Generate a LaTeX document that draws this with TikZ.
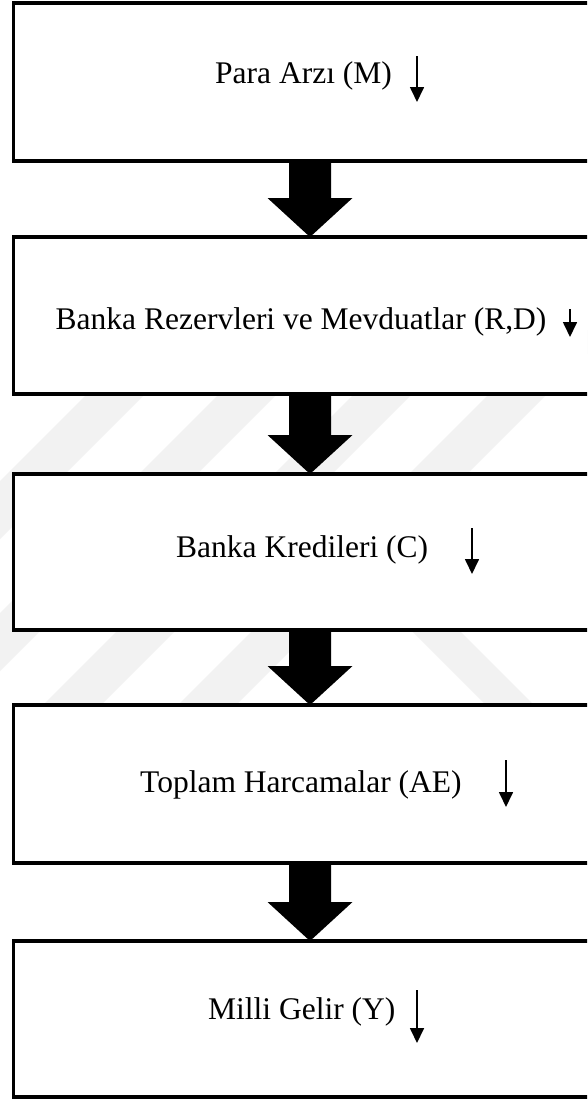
\documentclass[tikz,border=0pt]{standalone}
\usepackage{fontspec}
\setmainfont{Liberation Serif}
\usetikzlibrary{calc,arrows.meta}
\begin{document}
\begin{tikzpicture}[x=1pt,y=-1pt,
  box/.style={draw, line width=3.8pt, fill=white, rectangle, anchor=north west,
              inner sep=0pt, outer sep=0pt, minimum width=620pt},
  txt/.style={anchor=base west, inner sep=0pt, font=\fontsize{31.5}{36}\selectfont},
  fallarrow/.style={line width=1.7pt, -{Triangle[width=14pt,length=15pt]}},
  band/.style={fill=black!5}
]
\clip (0,0) rectangle (587,1100);
\fill[white] (0,0) rectangle (587,1100);

% faint diagonal background bands
\foreach \L in {11,143,278,413}{
  \fill[band] (\L+140,330) -- (\L+198,330) -- (\L-202,730) -- (\L-260,730) -- cycle;
}
\fill[band] (381,600) -- (429,600) -- (569,740) -- (521,740) -- cycle;

% stages
\node[box, minimum height=158pt] (b1) at (13.5,3) {};
\node[box, minimum height=157pt] (b2) at (13.5,237) {};
\node[box, minimum height=156pt] (b3) at (13.5,474) {};
\node[box, minimum height=158pt] (b4) at (13.5,705) {};
\node[box, minimum height=156pt] (b5) at (13.5,941) {};

% thick block arrows between stages
\coordinate (ax) at (310,0);
\foreach \a/\b in {b1/b2,b2/b3,b3/b4,b4/b5}{
  \fill ($(\a.south -| ax)+(-21,0)$) -- ($(\a.south -| ax)+(21,0)$)
     -- ($(\b.north -| ax)+(21,-39)$) -- ($(\b.north -| ax)+(42.5,-39)$)
     -- (\b.north -| ax)
     -- ($(\b.north -| ax)+(-42.5,-39)$) -- ($(\b.north -| ax)+(-21,-39)$) -- cycle;
}

% labels
\node[txt] (t1) at (215,83) {Para Arzı (M)};
\node[txt] (t2) at (55.5,329) {Banka Rezervleri ve Mevduatlar (R,D)};
\node[txt] (t3) at (176,557) {Banka Kredileri (C)};
\node[txt] (t4) at (140,792) {Toplam Harcamalar (AE)};
\node[txt] (t5) at (208,1019) {Milli Gelir (Y)};

% small "decrease" arrows
\coordinate (d1s) at (417,56);  \coordinate (d1e) at (417,102);
\coordinate (d2s) at (570,309); \coordinate (d2e) at (570,337);
\coordinate (d3s) at (472,528); \coordinate (d3e) at (472,574);
\coordinate (d4s) at (506,760); \coordinate (d4e) at (506,807);
\coordinate (d5s) at (417,990); \coordinate (d5e) at (417,1043);
\foreach \i in {1,...,5}{
  \draw[fallarrow] (d\i s) -- (d\i e);
}
\end{tikzpicture}
\end{document}
